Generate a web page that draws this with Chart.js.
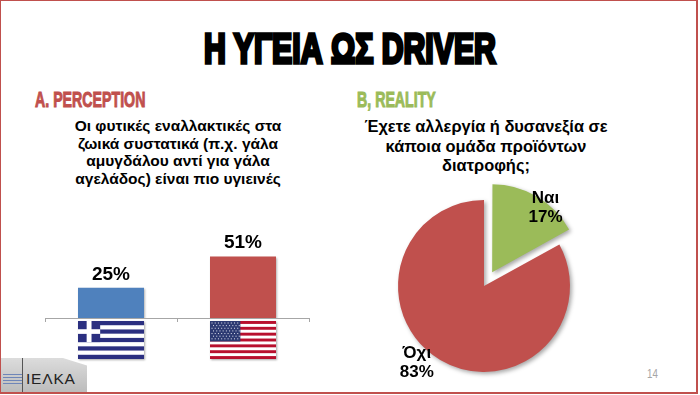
<!DOCTYPE html>
<html lang="el">
<head>
<meta charset="utf-8">
<title>Η ΥΓΕΙΑ ΩΣ DRIVER</title>
<script src="https://cdn.jsdelivr.net/npm/chart.js@4"></script>
<style>
  html, body { margin: 0; padding: 0; background: #fff; }
  #slide { position: relative; width: 700px; height: 395px; overflow: hidden; font-family: "Liberation Sans", Arial, sans-serif; color: #000; }
  #frame { position: absolute; left: 0; top: 0; width: 695px; height: 391px; border: 1px solid #c0504d; border-width: 1px 2px 2px 1px; }
  .abs { position: absolute; white-space: nowrap; }
  /* no Impact on the box, so squeeze a heavy stroked bold */
  #title { left: 0; width: 700px; top: 20px; text-align: center; font: bold 42px/58px "Liberation Sans", sans-serif; -webkit-text-stroke: 3.5px #000; transform: scaleX(0.72); transform-origin: 350px 0; }
  .head { font: bold 22px/24px "Liberation Sans", sans-serif; transform: scaleX(0.645); transform-origin: 0 0; }
  #headA { left: 35px; top: 88px; color: #c0504d; -webkit-text-stroke: 1px #c0504d; }
  #headB { left: 357px; top: 88px; color: #9bbb59; -webkit-text-stroke: 1px #9bbb59; }
  .question { text-align: center; font-weight: bold; }
  #qA { left: 58px; width: 240px; top: 117px; font-size: 15.5px; line-height: 17.7px; }
  #qB { left: 346px; width: 280px; top: 117px; font-size: 16.4px; line-height: 19.5px; }
  #barBox { position: absolute; left: 0; top: 230px; width: 350px; height: 140px; }
  #pieBox { position: absolute; left: 364px; top: 166px; width: 240px; height: 240px; }
  #pageNo { left: 647px; top: 367px; font: 13px/14px "Liberation Sans", sans-serif; color: #a6a6a6; transform: scaleX(0.75); transform-origin: 0 0; }
  #logo { position: absolute; left: 1px; top: 358px; width: 86px; height: 34px; background: linear-gradient(#dcdcdc, #bcbcbc); clip-path: polygon(0 0, 72% 0, 100% 22%, 100% 100%, 0 100%); }
  #logoRule { position: absolute; left: 21px; top: 0; width: 1px; height: 34px; background: #555; }
  #logoLines { position: absolute; left: 2px; top: 16px; width: 19px; height: 12px; background: repeating-linear-gradient(#6f86b8 0 1px, transparent 1px 3px); }
  #logoText { left: 25px; top: 9px; font: 15.5px/24px "Liberation Sans", sans-serif; letter-spacing: 0.8px; color: #222; }
</style>
</head>
<body>
<div id="slide">
  <div id="frame"></div>
  <div id="title" class="abs">Η ΥΓΕΙΑ ΩΣ DRIVER</div>
  <div id="headA" class="abs head">A. PERCEPTION</div>
  <div id="headB" class="abs head">B, REALITY</div>
  <div id="qA" class="abs question">Οι φυτικές εναλλακτικές στα<br>ζωικά συστατικά (π.χ. γάλα<br>αμυγδάλου αντί για γάλα<br>αγελάδος) είναι πιο υγιεινές</div>
  <div id="qB" class="abs question">Έχετε αλλεργία ή δυσανεξία σε<br>κάποια ομάδα προϊόντων<br>διατροφής;</div>
  <div id="barBox"><canvas id="barChart" width="350" height="140"></canvas></div>
  <div id="pieBox"><canvas id="pieChart" width="240" height="240"></canvas></div>
  <div id="logo"><div id="logoLines"></div><div id="logoRule"></div><div id="logoText" class="abs">ΙΕΛΚΑ</div></div>
  <div id="pageNo" class="abs">14</div>
</div>
<script>
const barCountries = ['Ελλάδα', 'ΗΠΑ'];
const barValues = [25, 51];
const barColors = ['#4f81bd', '#c0504d'];

const pieLabels = ['Ναι', 'Όχι'];
const pieValues = [17, 83];
const pieColors = ['#9bbb59', '#c0504d'];
// chart.js moves a slice by offset / 4
const pieOffsets = [64, 0];

// flags sit under the axis, drawn from the tick position
function drawGreekFlag(c, x, y, w, h) {
    const sh = h / 9;
    c.fillStyle = '#fff';
    c.fillRect(x, y, w, h);
    c.fillStyle = '#2b2f80';
    for (let i = 0; i < 9; i += 2) c.fillRect(x, y + i * sh, w, sh);
    const cw = sh * 5;
    c.fillRect(x, y, cw * 1.05, cw);
    c.fillStyle = '#fff';
    c.fillRect(x + cw * 1.05 * 0.39, y, cw * 1.05 * 0.22, cw);
    c.fillRect(x, y + cw * 0.39, cw * 1.05, cw * 0.22);
}

function drawUsFlag(c, x, y, w, h) {
    const sh = h / 13;
    c.fillStyle = '#fff';
    c.fillRect(x, y, w, h);
    c.fillStyle = '#b8102e';
    for (let i = 0; i < 13; i += 2) c.fillRect(x, y + i * sh, w, sh);
    const cw = w * 0.46, ch = sh * 7;
    c.fillStyle = '#2c3a72';
    c.fillRect(x, y, cw, ch);
    c.fillStyle = '#dfe3f0';
    for (let r = 0; r < 7; r++) {
        for (let k = 0; k < 9; k++) {
            c.fillRect(x + 1.5 + k * (cw - 3) / 8.5 + (r % 2) * 1.5, y + 1.5 + r * (ch - 2) / 7, 1, 1);
        }
    }
}

const flagPainters = [drawGreekFlag, drawUsFlag];

const barExtras = {
    id: 'barExtras',
    beforeDatasetsDraw(chart) {
        const c = chart.ctx;
        c.save();
        c.shadowColor = 'rgba(0,0,0,0.3)';
        c.shadowBlur = 2;
        c.shadowOffsetX = 1;
        c.shadowOffsetY = 1;
    },
    afterDatasetsDraw(chart) {
        chart.ctx.restore();
    },
    afterDraw(chart) {
        const c = chart.ctx;
        const xs = chart.scales.x;
        const meta = chart.getDatasetMeta(0);
        const base = chart.scales.y.getPixelForValue(0);
        // axis line with tick marks
        c.save();
        c.strokeStyle = '#a6a6a6';
        c.lineWidth = 1;
        c.beginPath();
        c.moveTo(xs.left, base + 0.5);
        c.lineTo(xs.right, base + 0.5);
        const step = (xs.right - xs.left) / barValues.length;
        for (let i = 0; i <= barValues.length; i++) {
            c.moveTo(xs.left + i * step + 0.5, base);
            c.lineTo(xs.left + i * step + 0.5, base + 4);
        }
        c.stroke();
        barValues.forEach((v, i) => {
            const el = meta.data[i];
            c.save();
            c.shadowColor = 'rgba(0,0,0,0.35)';
            c.shadowBlur = 2;
            c.shadowOffsetX = 1;
            c.shadowOffsetY = 1;
            c.fillStyle = '#fff';
            c.fillRect(el.x - 33, base + 3, 66, 38);
            c.restore();
            flagPainters[i](c, el.x - 33, base + 3, 66, 38);
            c.fillStyle = '#000';
            c.font = 'bold 19px "Liberation Sans", sans-serif';
            c.textAlign = 'center';
            c.textBaseline = 'bottom';
            c.fillText(v + '%', el.x, el.y - 4);
        });
        c.restore();
    }
};

const pieExtras = {
    id: 'pieExtras',
    beforeDatasetsDraw(chart) {
        const c = chart.ctx;
        c.save();
        c.shadowColor = 'rgba(0,0,0,0.35)';
        c.shadowBlur = 4;
        c.shadowOffsetX = 2;
        c.shadowOffsetY = 2;
    },
    afterDatasetsDraw(chart) {
        const c = chart.ctx;
        c.restore();
        const meta = chart.getDatasetMeta(0);
        c.save();
        c.fillStyle = '#000';
        c.font = 'bold 17px "Liberation Sans", sans-serif';
        c.textAlign = 'center';
        c.textBaseline = 'middle';
        // label spot: angle from the top and distance from the pie centre
        const spots = [[0.663, 100], [3.86, 102]];
        pieValues.forEach((v, i) => {
            const el = meta.data[i];
            const lx = el.x + Math.sin(spots[i][0]) * spots[i][1];
            const ly = el.y - Math.cos(spots[i][0]) * spots[i][1];
            c.fillText(pieLabels[i], lx, ly - 9);
            c.fillText(v + '%', lx, ly + 10);
        });
        c.restore();
    }
};

new Chart(document.getElementById('barChart'), {
    type: 'bar',
    data: {
        labels: barCountries,
        datasets: [{
            data: barValues,
            backgroundColor: barColors,
            categoryPercentage: 0.5,
            barPercentage: 1
        }]
    },
    options: {
        responsive: false,
        animation: false,
        layout: { padding: { left: 45, right: 41, top: 0, bottom: 52 } },
        plugins: { legend: { display: false }, tooltip: { enabled: false } },
        scales: {
            x: { display: false },
            y: { display: false, min: 0, max: 73 }
        }
    },
    plugins: [barExtras]
});

new Chart(document.getElementById('pieChart'), {
    type: 'pie',
    data: {
        labels: pieLabels,
        datasets: [{
            data: pieValues,
            backgroundColor: pieColors,
            borderWidth: 0,
            offset: pieOffsets,
            radius: 86
        }]
    },
    options: {
        responsive: false,
        animation: false,
        plugins: { legend: { display: false }, tooltip: { enabled: false } }
    },
    plugins: [pieExtras]
});
</script>
</body>
</html>
